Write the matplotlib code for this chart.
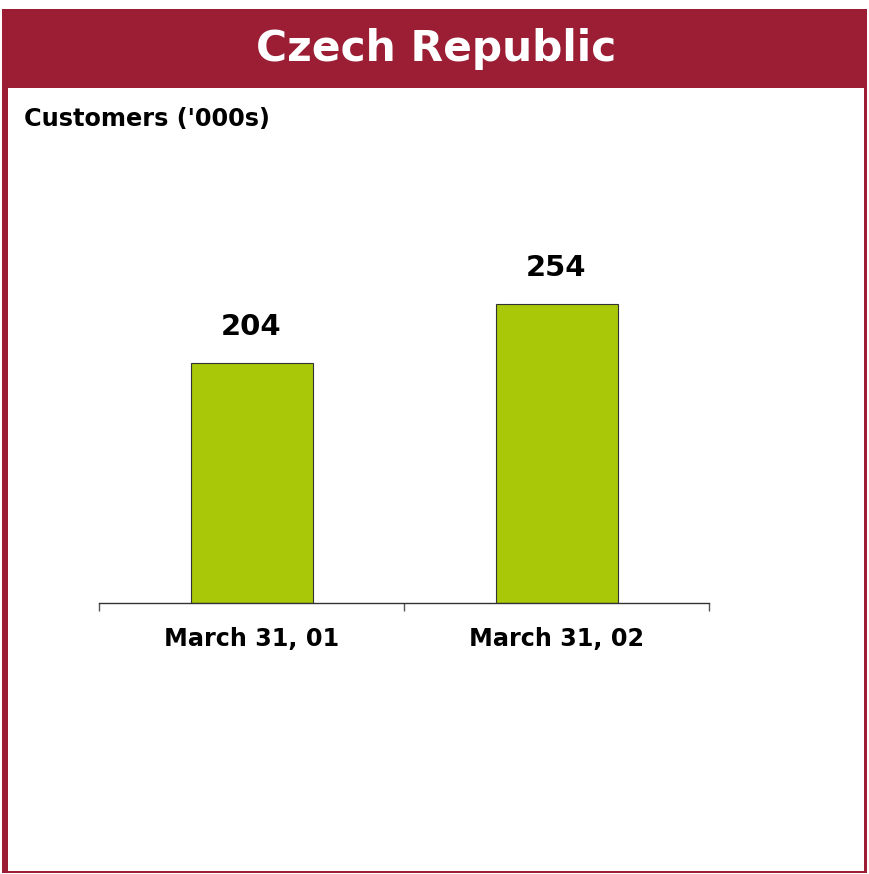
import matplotlib
matplotlib.use("Agg")
import matplotlib.pyplot as plt
from matplotlib.patches import Rectangle

categories = ["March 31, 01", "March 31, 02"]
values = [204, 254]
title = "Czech Republic"
subtitle = "Customers ('000s)"

W, H = 869, 874
fig = plt.figure(figsize=(W / 100, H / 100), dpi=100)
fig.patch.set_facecolor("white")

def fx(px):
    return px / W

def fy(py):
    return 1 - py / H

red = "#9B1E34"
frame = [
    ((fx(2), fy(873)), fx(6), 864 / H),
    ((fx(864), fy(873)), fx(3), 864 / H),
    ((fx(2), fy(873)), fx(865), 2 / H),
    ((fx(2), fy(88)), fx(865), 79 / H),
]
for xy, w, h in frame:
    fig.add_artist(Rectangle(xy, w, h, transform=fig.transFigure,
                             facecolor=red, edgecolor="none", zorder=-5))

fig.text(fx(436), fy(49), title, color="white", fontsize=30.5, fontweight="bold",
         ha="center", va="center", family="DejaVu Sans")
fig.text(fx(24), fy(119), subtitle, color="black", fontsize=17.3, fontweight="bold",
         ha="left", va="center", family="DejaVu Sans")

ax = fig.add_axes([fx(99), fy(603), fx(610), (603 - 150) / H])
ax.set_facecolor("none")
ax.set_zorder(2)
x = list(range(len(categories)))
bars = ax.bar(x, values, width=0.4, color="#A8C808", edgecolor="#333333", linewidth=0.8)
ax.set_xlim(-0.5, len(categories) - 0.5)
ax.set_ylim(0, 385)
for s in ["top", "right", "left"]:
    ax.spines[s].set_visible(False)
ax.spines["bottom"].set_color("#333333")
ax.spines["bottom"].set_linewidth(1.0)
ax.set_yticks([])
ax.set_xticks([-0.5, 0.5, 1.5], minor=False)
ax.set_xticklabels([])
ax.tick_params(axis="x", which="major", length=6, color="#555555", width=1.0, direction="out")
ax.set_xticks(x, minor=True)
ax.set_xticklabels(categories, minor=True, fontsize=17.2, fontweight="bold", family="DejaVu Sans")
ax.tick_params(axis="x", which="minor", length=0, pad=17)

for xi, v in zip(x, values):
    ax.annotate(str(v), (xi, v), xytext=(0, 26), textcoords="offset points",
                ha="center", va="center", fontsize=21, fontweight="bold", family="DejaVu Sans")

fig.savefig("out.png", dpi=100, facecolor="white")
